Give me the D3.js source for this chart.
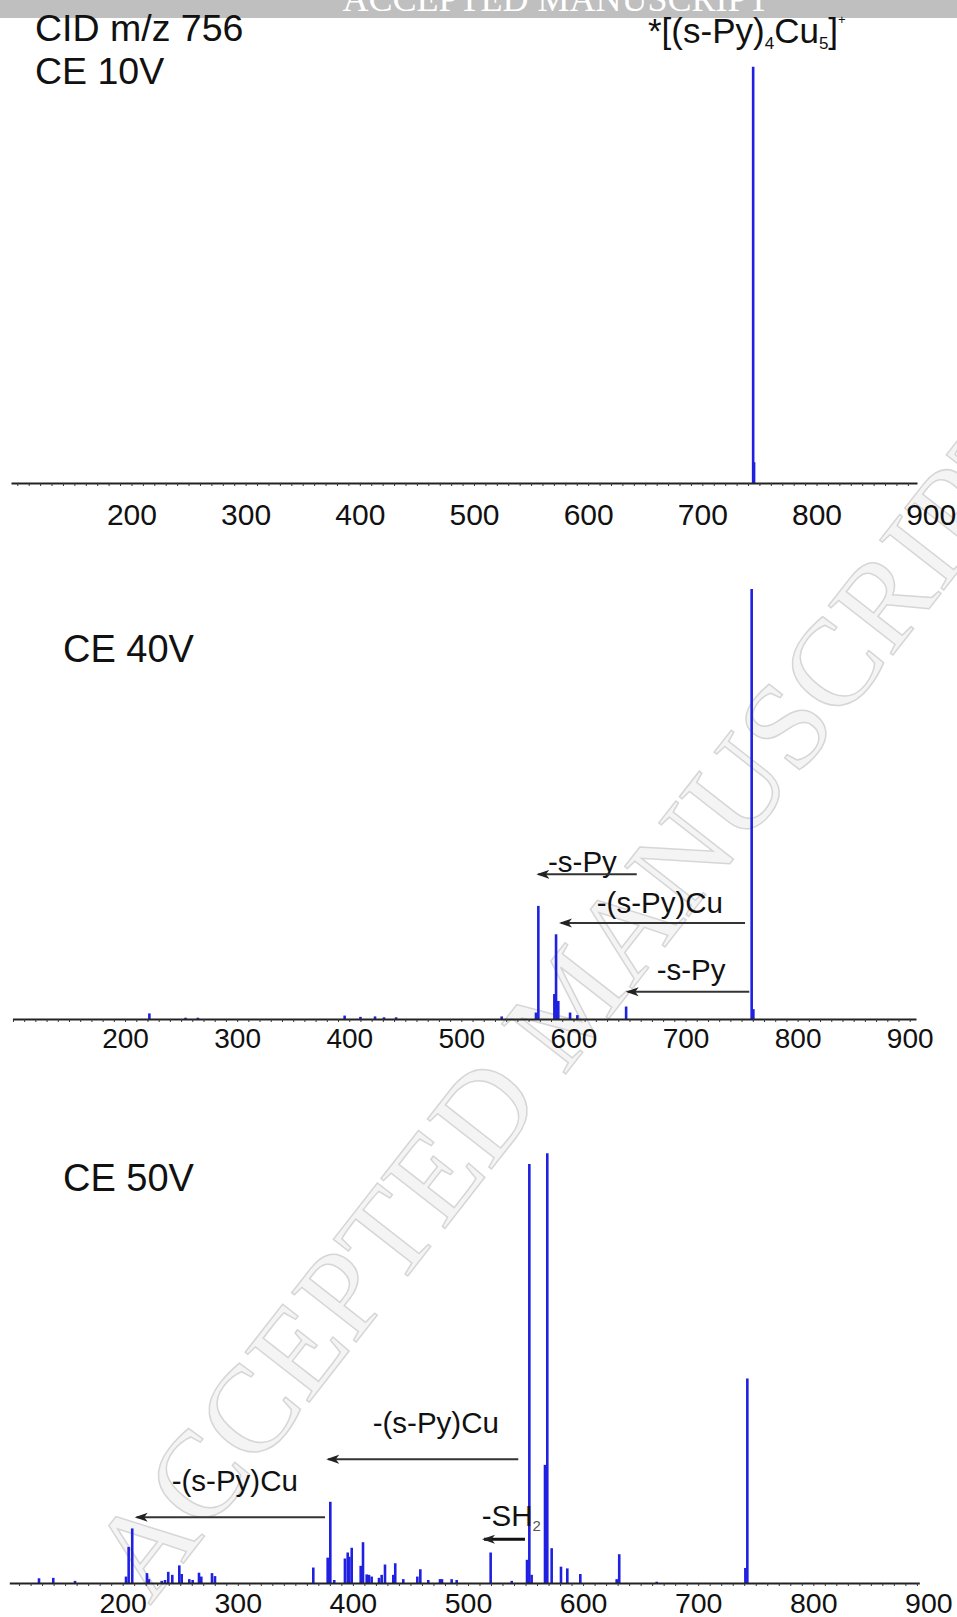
<!DOCTYPE html>
<html>
<head>
<meta charset="utf-8">
<script src="https://cdnjs.cloudflare.com/ajax/libs/d3/7.8.5/d3.min.js"></script>
<style>
body { margin: 0; background: #fff; }
svg { display: block; font-family: "Liberation Sans", Arial, sans-serif; }
</style>
</head>
<body>
<svg width="957" height="1617"></svg>
<script>
// peaks as [m/z, relative intensity %]
var ce10Peaks = [[744.5, 100], [745.3, 5]];

var ce40Peaks = [
  [221.7, 1.3], [254, 0.3], [265, 0.3], [395.9, 0.8], [410, 0.5], [423, 0.6],
  [431, 0.4], [441.8, 0.4], [536, 0.6], [566.6, 1.5], [568.7, 26.3], [583, 5.8],
  [584.5, 19.7], [586.5, 4.2], [597, 1.5], [603.5, 0.9], [647, 2.9], [759, 100], [760.5, 2.3]
];

var ce50Peaks = [
  [127.3, 1.1], [139.7, 1.2], [158.6, 0.5], [202.9, 1.5], [205.2, 8.4], [208.3, 12.7],
  [221.1, 2.3], [222.8, 0.9], [233.9, 0.5], [236.8, 0.7], [239.6, 2.6], [243.1, 1.9],
  [249.2, 4.1], [251.3, 2.1], [257.9, 0.9], [260.8, 0.7], [266.3, 2.4], [268.3, 1.5],
  [277.6, 2.3], [280.2, 1.6], [365.6, 3.6], [378.1, 5.9], [380.4, 18.9], [383.8, 0.7],
  [393.1, 5.7], [395.5, 7.1], [396.9, 6.1], [399, 8.2], [406.8, 4.0], [408.8, 9.5],
  [412, 2.0], [414, 1.9], [416.3, 1.5], [422.7, 1.2], [425, 1.9], [427.9, 4.3],
  [435.1, 1.9], [436.8, 4.6], [443.8, 0.9], [456, 1.5], [458.6, 3.2], [465.5, 0.7],
  [475.7, 0.9], [477.4, 0.9], [485.8, 0.9], [490.2, 0.7], [519.7, 7.1], [538, 0.5],
  [551.3, 5.4], [553.3, 97.5], [555.3, 1.9], [566.9, 27.5], [568.9, 100], [572.7, 8.1],
  [580.8, 3.8], [586.3, 3.4], [597.6, 2.1], [629.2, 0.9], [631.4, 6.7], [664, 0.3],
  [741, 3.5], [742.7, 47.6]
];

var tickLabels = [200, 300, 400, 500, 600, 700, 800, 900];

var svg = d3.select('svg');
var blue = '#2020e0';

// watermark + header strip
svg.append('text')
  .attr('transform', 'translate(150,1606) rotate(-52)')
  .attr('font-family', '"Liberation Serif", "Times New Roman", serif')
  .attr('font-size', 124)
  .attr('fill', '#f4f4f4')
  .attr('stroke', '#d6d6d6')
  .attr('stroke-width', 1.5)
  .text('ACCEPTED MANUSCRIPT');

svg.append('rect')
  .attr('x', 0).attr('y', 0)
  .attr('width', 957).attr('height', 18)
  .attr('fill', '#bfbfbf');

svg.append('text')
  .attr('x', 556).attr('y', 11)
  .attr('text-anchor', 'middle')
  .attr('font-family', '"Liberation Serif", "Times New Roman", serif')
  .attr('font-size', 36)
  .attr('fill', '#fff')
  .text('ACCEPTED MANUSCRIPT');

var defs = svg.append('defs');
defs.append('marker')
  .attr('id', 'head')
  .attr('markerUnits', 'userSpaceOnUse')
  .attr('markerWidth', 14).attr('markerHeight', 10)
  .attr('refX', 11).attr('refY', 5)
  .attr('orient', 'auto')
  .append('path')
  .attr('d', 'M13,5 L0,0.5 L3.5,5 L0,9.5 Z')
  .attr('fill', '#222');

var panels = [
  {peaks: ce10Peaks, domain: [94.5, 888], range: [11, 917], base: 483, top: 66.7, labelY: 42, labelSize: 30},
  {peaks: ce40Peaks, domain: [99.6, 905.6], range: [12.5, 916], base: 1019, top: 589, labelY: 29, labelSize: 28},
  {peaks: ce50Peaks, domain: [101.5, 892.1], range: [9.3, 919.3], base: 1583, top: 1153.3, labelY: 30, labelSize: 28.5}
];

panels.forEach(function(p) {
  p.x = d3.scaleLinear().domain(p.domain).range(p.range);
  p.y = d3.scaleLinear().domain([0, 100]).range([p.base, p.top]);

  var g = svg.append('g');

  g.selectAll('.peak')
    .data(p.peaks)
    .enter()
    .append('line')
    .attr('class', 'peak')
    .attr('x1', d => p.x(d[0]))
    .attr('x2', d => p.x(d[0]))
    .attr('y1', p.y(0))
    .attr('y2', d => p.y(d[1]))
    .attr('stroke', blue)
    .attr('stroke-width', 2.6);

  var minor = d3.range(100, 910, 10).filter(v => v >= p.domain[0] && v <= p.domain[1]);

  var axis = g.append('g')
    .attr('transform', 'translate(0,' + p.base + ')')
    .call(d3.axisBottom(p.x).tickValues(minor).tickSize(3).tickSizeOuter(0).tickFormat(''));
  axis.select('.domain').attr('stroke', '#222').attr('stroke-width', 2);
  axis.selectAll('.tick line').attr('stroke', '#333').attr('stroke-width', 1);

  var labels = g.append('g')
    .attr('transform', 'translate(0,' + p.base + ')')
    .call(d3.axisBottom(p.x).tickValues(tickLabels).tickSize(0).tickFormat(d3.format('d')));
  labels.select('.domain').remove();
  labels.selectAll('text')
    .attr('y', p.labelY)
    .attr('dy', null)
    .attr('fill', '#111')
    .attr('font-size', p.labelSize)
    .attr('font-family', '"Liberation Sans", Arial, sans-serif');
});

// titles
function title(x, y, size, str) {
  svg.append('text')
    .attr('x', x).attr('y', y)
    .attr('font-size', size)
    .attr('fill', '#111')
    .text(str);
}
title(35, 41, 37.5, 'CID m/z 756');
title(35, 84, 37.5, 'CE 10V');
title(63, 662, 38, 'CE 40V');
title(63, 1191, 38, 'CE 50V');

// parent ion label
var ion = svg.append('text')
  .attr('x', 648).attr('y', 43)
  .attr('font-size', 35)
  .attr('fill', '#111');
ion.append('tspan').text('*[(s-Py)');
ion.append('tspan').attr('font-size', 17).attr('dy', 6).text('4');
ion.append('tspan').attr('dy', -6).text('Cu');
ion.append('tspan').attr('font-size', 17).attr('dy', 6).text('5');
ion.append('tspan').attr('dy', -6).text(']');
ion.append('tspan').attr('font-size', 13).attr('dy', -19).text('+');

// loss annotations, in data units of each panel
var ce40Notes = [
  {text: '-s-Py', tx: 577.3, ty: 34.3, x1: 656.5, x2: 568.7, ay: 33.65},
  {text: '-(s-Py)Cu', tx: 620.8, ty: 24.7, x1: 753.1, x2: 588.9, ay: 22.3},
  {text: '-s-Py', tx: 674.3, ty: 9.1, x1: 756.9, x2: 648.4, ay: 6.35}
];
var ce50Notes = [
  {text: '-(s-Py)Cu', tx: 417.2, ty: 34.8, x1: 543.7, x2: 378.6, ay: 28.8},
  {text: '-(s-Py)Cu', tx: 242.6, ty: 21.5, x1: 375.8, x2: 212.2, ay: 15.3}
];

function notes(p, list) {
  list.forEach(function(n) {
    svg.append('text')
      .attr('x', p.x(n.tx)).attr('y', p.y(n.ty))
      .attr('font-size', 29.5)
      .attr('fill', '#111')
      .text(n.text);
    svg.append('line')
      .attr('x1', p.x(n.x1)).attr('x2', p.x(n.x2))
      .attr('y1', p.y(n.ay)).attr('y2', p.y(n.ay))
      .attr('stroke', '#333')
      .attr('stroke-width', 2)
      .attr('marker-end', 'url(#head)');
  });
}
notes(panels[1], ce40Notes);
notes(panels[2], ce50Notes);

// -SH2 loss
var p3 = panels[2];
var sh = svg.append('text')
  .attr('x', p3.x(511.9)).attr('y', p3.y(13.3))
  .attr('font-size', 29.5)
  .attr('fill', '#111');
sh.append('tspan').text('-SH');
sh.append('tspan').attr('font-size', 15).attr('dy', 5).attr('fill', '#555').text('2');
svg.append('line')
  .attr('x1', p3.x(549.5)).attr('x2', p3.x(513.9))
  .attr('y1', p3.y(10.2)).attr('y2', p3.y(10.2))
  .attr('stroke', '#111')
  .attr('stroke-width', 3)
  .attr('marker-end', 'url(#head)');
</script>
</body>
</html>
